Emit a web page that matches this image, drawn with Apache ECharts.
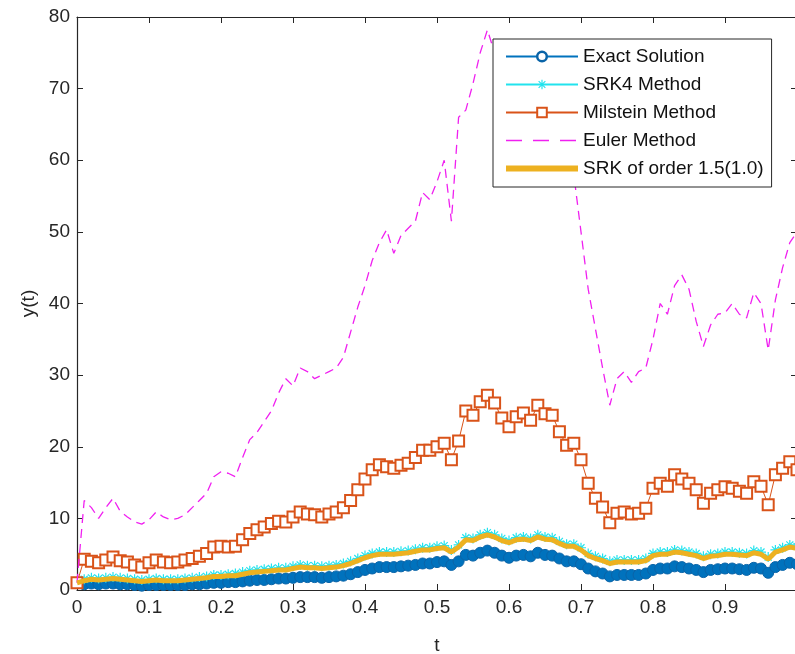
<!DOCTYPE html>
<html>
<head>
<meta charset="utf-8">
<script src="https://cdn.jsdelivr.net/npm/echarts@6/dist/echarts.min.js"></script>
<style>html,body{margin:0;padding:0;background:#fff;}#c{width:795px;height:654px;}</style>
</head>
<body>
<div id="c"></div>
<script>
// time grid step
const dt = 0.01;
const xTicks = [0, 0.1, 0.2, 0.3, 0.4, 0.5, 0.6, 0.7, 0.8, 0.9];
const yTicks = [0, 10, 20, 30, 40, 50, 60, 70, 80];
const seriesNames = ['Exact Solution', 'SRK4 Method', 'Milstein Method', 'Euler Method', 'SRK of order 1.5(1.0)'];

const exact = [1,0.8,0.9,0.8,0.9,0.9,0.8,0.8,0.7,0.6,
  0.7,0.7,0.7,0.7,0.7,0.7,0.8,0.8,0.9,1.0,
  1.0,1.1,1.1,1.2,1.3,1.4,1.4,1.5,1.6,1.6,
  1.7,1.8,1.8,1.8,1.7,1.8,1.9,2.0,2.2,2.5,
  2.8,3.0,3.2,3.2,3.2,3.3,3.4,3.5,3.7,3.7,
  3.9,4.0,3.5,4.0,4.9,4.8,5.2,5.5,5.2,4.8,
  4.5,4.8,4.9,4.7,5.2,4.9,4.8,4.4,4.0,4.0,
  3.6,3.0,2.6,2.3,1.9,2.1,2.1,2.1,2.1,2.3,
  2.8,3.0,3.0,3.3,3.2,3.0,2.8,2.5,2.8,2.9,
  3.0,3.0,2.9,2.8,3.1,3.0,2.4,3.2,3.5,3.8,
  3.6];
const srk4 = [1,1.5,1.7,1.6,1.7,1.8,1.7,1.6,1.5,1.4,
  1.5,1.6,1.5,1.5,1.5,1.6,1.7,1.8,1.9,2.1,
  2.1,2.2,2.3,2.5,2.7,2.8,2.9,3.0,3.1,3.1,
  3.3,3.5,3.4,3.4,3.3,3.4,3.5,3.7,4.0,4.4,
  4.8,5.1,5.3,5.3,5.3,5.4,5.5,5.7,5.9,5.9,
  6.1,6.2,5.6,6.3,7.3,7.2,7.7,8.0,7.7,7.2,
  6.9,7.3,7.4,7.2,7.7,7.4,7.3,6.8,6.4,6.4,
  5.9,5.1,4.7,4.4,4.0,4.2,4.2,4.2,4.2,4.4,
  5.1,5.3,5.3,5.6,5.5,5.3,5.1,4.7,5.0,5.1,
  5.3,5.3,5.2,5.1,5.5,5.3,4.6,5.6,5.9,6.3,
  6.1];
const milstein = [1,4.3,4.0,3.8,4.2,4.6,4.1,3.9,3.5,3.2,
  3.8,4.2,3.9,3.8,3.9,4.2,4.4,4.7,5.1,6.0,
  6.1,6.0,6.1,7.0,7.9,8.4,8.8,9.3,9.6,9.5,
  10.2,10.9,10.6,10.5,10.2,10.6,10.9,11.5,12.5,14,
  15.5,16.8,17.5,17.2,17,17.4,17.7,18.5,19.5,19.5,
  20,20.5,18.2,20.8,25,24.4,26.3,27.2,26.1,24,
  22.8,24.2,24.7,23.7,25.8,24.6,24.4,22.1,20.2,20.5,
  18.2,14.9,12.8,11.6,9.4,10.7,10.9,10.6,10.7,11.4,
  14.2,14.9,14.5,16.1,15.5,14.9,14,12.1,13.5,14,
  14.4,14.2,13.8,13.5,15.1,14.5,11.9,16.1,17,17.9,
  16.8];
const euler = [1,12.5,11.5,10,11.5,12.8,11,10.2,9.5,9.2,
  9.8,10.9,10.2,9.8,10,10.5,11.5,12.5,13.5,15.8,
  16.5,16.3,15.8,18.5,21,22,23.5,25,27.5,29.5,
  28.5,31,30.5,29.5,30,30.5,31,32.5,36,39.5,
  42.5,46,48.5,50.3,47,49.5,50.5,51.5,55.5,54.5,
  57,60,51.5,66,67,70.7,75,78.2,75,73,
  71,72,69,68,70,67,65,63,61,58,
  50,42,36.5,31,25.8,29.5,30.5,29,30.5,31,
  35,40,38.5,42.5,44,42,37.5,34,37,38.5,
  38.7,40,38.5,38,41.5,40,33.5,40.5,45,48.5,
  50];
const srk15 = [1,1.3,1.5,1.4,1.5,1.6,1.5,1.4,1.3,1.2,
  1.3,1.4,1.3,1.3,1.3,1.4,1.5,1.6,1.7,1.9,
  1.9,2.0,2.0,2.2,2.4,2.5,2.6,2.7,2.8,2.8,
  3.0,3.2,3.1,3.1,3.0,3.1,3.2,3.4,3.7,4.1,
  4.5,4.8,5.0,5.0,5.0,5.1,5.2,5.4,5.6,5.6,
  5.8,5.9,5.3,6.0,7.0,6.9,7.4,7.7,7.4,6.9,
  6.6,7.0,7.1,6.9,7.4,7.1,7.0,6.5,6.1,6.1,
  5.6,4.8,4.4,4.1,3.7,3.9,3.9,3.9,3.9,4.1,
  4.8,5.0,5.0,5.3,5.2,5.0,4.8,4.4,4.7,4.8,
  5.0,5.0,4.9,4.8,5.2,5.0,4.3,5.3,5.6,6.0,
  5.8];

function pair(arr){ return arr.map((v,i)=>[+(i*dt).toFixed(2), v]); }

const star = 'path://M-0.6,-5L0.6,-5L0.6,5L-0.6,5Z M-5,-0.6L5,-0.6L5,0.6L-5,0.6Z M-3.08,-3.92L3.92,3.08L3.08,3.92L-3.92,-3.08Z M3.08,-3.92L3.92,-3.08L-3.08,3.92L-3.92,3.08Z';
// legend icons (72 x 12 box, zero-area segments fix the bounds)
const dashIcon = 'path://M0,0L0,12 M72,0L72,12 M0,5.3L16,5.3L16,6.7L0,6.7Z M27,5.3L43,5.3L43,6.7L27,6.7Z M54,5.3L70,5.3L70,6.7L54,6.7Z';
const thickIcon = 'path://M0,0L0,12 M72,0L72,12 M0,3L72,3L72,9L0,9Z';

const axisColor = '#262626';
const font = 'Liberation Sans, Arial, Helvetica, sans-serif';
const chart = echarts.init(document.getElementById('c'), null, {renderer:'canvas'});
chart.setOption({
  animation:false,
  backgroundColor:'#fff',
  grid: {left:77, top:17, width:720, height:573, outerBoundsMode:'none', containLabel:false},
  legend: {
    orient:'vertical', left:493, top:39, z:20,
    backgroundColor:'#fff', borderColor:axisColor, borderWidth:1, borderRadius:0,
    padding:[8,8,9,12], itemGap:9, itemWidth:72, itemHeight:12,
    textStyle:{fontSize:19, lineHeight:19, color:'#111', fontFamily:font},
    data: [
      {name:seriesNames[0], itemStyle:{color:'#fff', borderColor:'#0a64a8', borderWidth:2.5}},
      {name:seriesNames[1]},
      {name:seriesNames[2]},
      {name:seriesNames[3], icon:dashIcon, itemStyle:{borderWidth:0}},
      {name:seriesNames[4], icon:thickIcon, itemStyle:{borderWidth:0}}
    ]
  },
  xAxis: [{
    type:'value', min:0, max:1, interval:0.1,
    name:'t', nameLocation:'middle', nameGap:46,
    nameTextStyle:{fontSize:19, color:axisColor, fontFamily:font},
    axisLine:{show:true, onZero:false, lineStyle:{color:axisColor, width:1.2}},
    axisTick:{show:true, inside:true, length:6, lineStyle:{color:axisColor}},
    axisLabel:{fontSize:19, color:axisColor, fontFamily:font, margin:8,
      formatter:(v)=> xTicks.some(x=>Math.abs(x-v)<1e-9) ? (v===0?'0':v.toFixed(1)) : ''},
    splitLine:{show:false}
  },{
    type:'value', min:0, max:1, interval:0.1, position:'top',
    axisLine:{show:true, onZero:false, lineStyle:{color:axisColor, width:1.2}},
    axisTick:{show:true, inside:true, length:6, lineStyle:{color:axisColor}},
    axisLabel:{show:false}, splitLine:{show:false}
  }],
  yAxis: [{
    type:'value', min:0, max:80, interval:10,
    name:'y(t)', nameLocation:'middle', nameGap:37,
    nameTextStyle:{fontSize:19, color:axisColor, fontFamily:font},
    axisLine:{show:true, onZero:false, lineStyle:{color:axisColor, width:1.2}},
    axisTick:{show:true, inside:true, length:6, lineStyle:{color:axisColor}},
    axisLabel:{fontSize:19, color:axisColor, fontFamily:font, margin:7,
      formatter:(v)=> yTicks.includes(v) ? String(v) : ''},
    splitLine:{show:false}
  },{
    type:'value', min:0, max:80, interval:10, position:'right',
    axisLine:{show:true, onZero:false, lineStyle:{color:axisColor, width:1.2}},
    axisTick:{show:true, inside:true, length:6, lineStyle:{color:axisColor}},
    axisLabel:{show:false}, splitLine:{show:false}
  }],
  series: [
    {name:seriesNames[0], type:'line', data:pair(exact), symbol:'circle', symbolSize:11,
      lineStyle:{color:'#0072BD', width:4}, itemStyle:{color:'#0072BD', borderColor:'#0a64a8', borderWidth:1}, z:2},
    {name:seriesNames[1], type:'line', data:pair(srk4), symbol:star, symbolSize:10,
      lineStyle:{color:'#22e3ee', width:1}, itemStyle:{color:'#22e3ee'}, z:3},
    {name:seriesNames[2], type:'line', data:pair(milstein), symbol:'emptyRect', symbolSize:11,
      lineStyle:{color:'#D95319', width:1}, itemStyle:{color:'#D95319', borderColor:'#D95319', borderWidth:1}, z:4},
    {name:seriesNames[3], type:'line', data:pair(euler), symbol:'none',
      lineStyle:{color:'#f020f0', width:1.3, type:[9,6]}, itemStyle:{color:'#f020f0'}, z:5},
    {name:seriesNames[4], type:'line', data:pair(srk15), symbol:'none',
      lineStyle:{color:'#EDB120', width:5}, itemStyle:{color:'#EDB120'}, z:6}
  ]
});
</script>
</body>
</html>
